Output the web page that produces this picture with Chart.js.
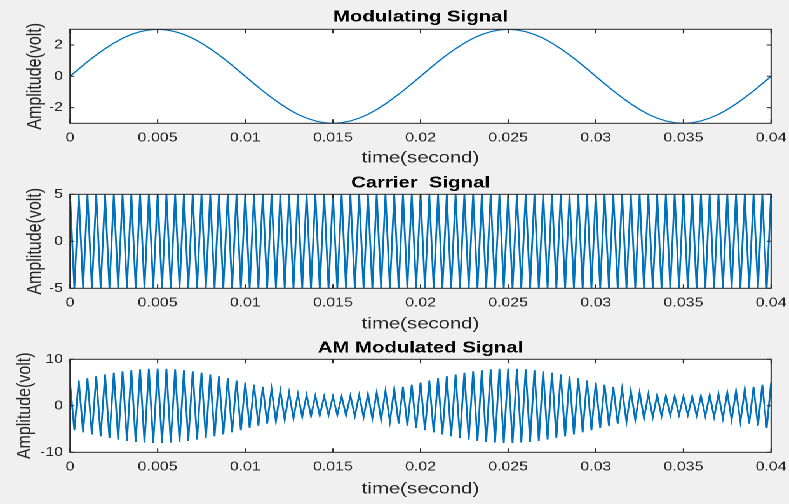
<!DOCTYPE html>
<html>
<head>
<meta charset="utf-8">
<script src="https://cdn.jsdelivr.net/npm/chart.js@4/dist/chart.umd.min.js"></script>
<style>
  html, body { margin: 0; background: #f0f0f0; overflow: hidden; }
  #figure { position: absolute; left: 0; top: 0; width: 621px; height: 504px; transform: scaleX(1.2705); transform-origin: 0 0; }
  #figure canvas { position: absolute; left: 0; }
</style>
</head>
<body>
<div id="figure">
  <canvas id="mod" width="621" height="170" style="top:0"></canvas>
  <canvas id="carrier" width="621" height="165" style="top:170px"></canvas>
  <canvas id="am" width="621" height="169" style="top:335px"></canvas>
</div>
<script>
// time axis (seconds)
const xTicks = [0, 0.005, 0.01, 0.015, 0.02, 0.025, 0.03, 0.035, 0.04]
const xTickLabels = ['0', '0.005', '0.01', '0.015', '0.02', '0.025', '0.03', '0.035', '0.04']

// modulating signal, read every 0.5 ms
const tMod = [
  0, 0.0005, 0.001, 0.0015, 0.002, 0.0025, 0.003, 0.0035, 0.004, 0.0045,
  0.005, 0.0055, 0.006, 0.0065, 0.007, 0.0075, 0.008, 0.0085, 0.009, 0.0095,
  0.01, 0.0105, 0.011, 0.0115, 0.012, 0.0125, 0.013, 0.0135, 0.014, 0.0145,
  0.015, 0.0155, 0.016, 0.0165, 0.017, 0.0175, 0.018, 0.0185, 0.019, 0.0195,
  0.02, 0.0205, 0.021, 0.0215, 0.022, 0.0225, 0.023, 0.0235, 0.024, 0.0245,
  0.025, 0.0255, 0.026, 0.0265, 0.027, 0.0275, 0.028, 0.0285, 0.029, 0.0295,
  0.03, 0.0305, 0.031, 0.0315, 0.032, 0.0325, 0.033, 0.0335, 0.034, 0.0345,
  0.035, 0.0355, 0.036, 0.0365, 0.037, 0.0375, 0.038, 0.0385, 0.039, 0.0395,
  0.04
]
const modValues = [
  0, 0.47, 0.93, 1.36, 1.76, 2.12, 2.43, 2.67, 2.85, 2.96,
  3, 2.96, 2.85, 2.67, 2.43, 2.12, 1.76, 1.36, 0.93, 0.47,
  0, -0.47, -0.93, -1.36, -1.76, -2.12, -2.43, -2.67, -2.85, -2.96,
  -3, -2.96, -2.85, -2.67, -2.43, -2.12, -1.76, -1.36, -0.93, -0.47,
  0, 0.47, 0.93, 1.36, 1.76, 2.12, 2.43, 2.67, 2.85, 2.96,
  3, 2.96, 2.85, 2.67, 2.43, 2.12, 1.76, 1.36, 0.93, 0.47,
  0, -0.47, -0.93, -1.36, -1.76, -2.12, -2.43, -2.67, -2.85, -2.96,
  -3, -2.96, -2.85, -2.67, -2.43, -2.12, -1.76, -1.36, -0.93, -0.47,
  0
]
const modTicks = [-2, 0, 2]

// carrier / AM peaks, read every 0.25 ms
const tFast = [
  0, 0.00025, 0.0005, 0.00075, 0.001, 0.00125, 0.0015, 0.00175,
  0.002, 0.00225, 0.0025, 0.00275, 0.003, 0.00325, 0.0035, 0.00375,
  0.004, 0.00425, 0.0045, 0.00475, 0.005, 0.00525, 0.0055, 0.00575,
  0.006, 0.00625, 0.0065, 0.00675, 0.007, 0.00725, 0.0075, 0.00775,
  0.008, 0.00825, 0.0085, 0.00875, 0.009, 0.00925, 0.0095, 0.00975,
  0.01, 0.01025, 0.0105, 0.01075, 0.011, 0.01125, 0.0115, 0.01175,
  0.012, 0.01225, 0.0125, 0.01275, 0.013, 0.01325, 0.0135, 0.01375,
  0.014, 0.01425, 0.0145, 0.01475, 0.015, 0.01525, 0.0155, 0.01575,
  0.016, 0.01625, 0.0165, 0.01675, 0.017, 0.01725, 0.0175, 0.01775,
  0.018, 0.01825, 0.0185, 0.01875, 0.019, 0.01925, 0.0195, 0.01975,
  0.02, 0.02025, 0.0205, 0.02075, 0.021, 0.02125, 0.0215, 0.02175,
  0.022, 0.02225, 0.0225, 0.02275, 0.023, 0.02325, 0.0235, 0.02375,
  0.024, 0.02425, 0.0245, 0.02475, 0.025, 0.02525, 0.0255, 0.02575,
  0.026, 0.02625, 0.0265, 0.02675, 0.027, 0.02725, 0.0275, 0.02775,
  0.028, 0.02825, 0.0285, 0.02875, 0.029, 0.02925, 0.0295, 0.02975,
  0.03, 0.03025, 0.0305, 0.03075, 0.031, 0.03125, 0.0315, 0.03175,
  0.032, 0.03225, 0.0325, 0.03275, 0.033, 0.03325, 0.0335, 0.03375,
  0.034, 0.03425, 0.0345, 0.03475, 0.035, 0.03525, 0.0355, 0.03575,
  0.036, 0.03625, 0.0365, 0.03675, 0.037, 0.03725, 0.0375, 0.03775,
  0.038, 0.03825, 0.0385, 0.03875, 0.039, 0.03925, 0.0395, 0.03975,
  0.04
]
const carrierValues = [
  5, -5, 5, -5, 5, -5, 5, -5, 5, -5, 5, -5, 5, -5, 5, -5, 5, -5, 5, -5,
  5, -5, 5, -5, 5, -5, 5, -5, 5, -5, 5, -5, 5, -5, 5, -5, 5, -5, 5, -5,
  5, -5, 5, -5, 5, -5, 5, -5, 5, -5, 5, -5, 5, -5, 5, -5, 5, -5, 5, -5,
  5, -5, 5, -5, 5, -5, 5, -5, 5, -5, 5, -5, 5, -5, 5, -5, 5, -5, 5, -5,
  5, -5, 5, -5, 5, -5, 5, -5, 5, -5, 5, -5, 5, -5, 5, -5, 5, -5, 5, -5,
  5, -5, 5, -5, 5, -5, 5, -5, 5, -5, 5, -5, 5, -5, 5, -5, 5, -5, 5, -5,
  5, -5, 5, -5, 5, -5, 5, -5, 5, -5, 5, -5, 5, -5, 5, -5, 5, -5, 5, -5,
  5, -5, 5, -5, 5, -5, 5, -5, 5, -5, 5, -5, 5, -5, 5, -5, 5, -5, 5, -5,
  5
]
const carrierTicks = [-5, 0, 5]

const amValues = [
  5, -5.24, 5.47, -5.7, 5.93, -6.15, 6.36, -6.57, 6.76, -6.95,
  7.12, -7.28, 7.43, -7.56, 7.67, -7.77, 7.85, -7.92, 7.96, -7.99,
  8, -7.99, 7.96, -7.92, 7.85, -7.77, 7.67, -7.56, 7.43, -7.28,
  7.12, -6.95, 6.76, -6.57, 6.36, -6.15, 5.93, -5.7, 5.47, -5.24,
  5, -4.76, 4.53, -4.3, 4.07, -3.85, 3.64, -3.43, 3.24, -3.05,
  2.88, -2.72, 2.57, -2.44, 2.33, -2.23, 2.15, -2.08, 2.04, -2.01,
  2, -2.01, 2.04, -2.08, 2.15, -2.23, 2.33, -2.44, 2.57, -2.72,
  2.88, -3.05, 3.24, -3.43, 3.64, -3.85, 4.07, -4.3, 4.53, -4.76,
  5, -5.24, 5.47, -5.7, 5.93, -6.15, 6.36, -6.57, 6.76, -6.95,
  7.12, -7.28, 7.43, -7.56, 7.67, -7.77, 7.85, -7.92, 7.96, -7.99,
  8, -7.99, 7.96, -7.92, 7.85, -7.77, 7.67, -7.56, 7.43, -7.28,
  7.12, -6.95, 6.76, -6.57, 6.36, -6.15, 5.93, -5.7, 5.47, -5.24,
  5, -4.76, 4.53, -4.3, 4.07, -3.85, 3.64, -3.43, 3.24, -3.05,
  2.88, -2.72, 2.57, -2.44, 2.33, -2.23, 2.15, -2.08, 2.04, -2.01,
  2, -2.01, 2.04, -2.08, 2.15, -2.23, 2.33, -2.44, 2.57, -2.72,
  2.88, -3.05, 3.24, -3.43, 3.64, -3.85, 4.07, -4.3, 4.53, -4.76,
  5
]
const amTicks = [-10, 0, 10]

const lineColor = '#0072bd'
const axisColor = '#262626'

Chart.defaults.font.family = "'Liberation Sans', Arial, sans-serif"
Chart.defaults.color = axisColor

// white axes box with MATLAB-style inward ticks
const axesBox = {
  id: 'axesBox',
  beforeDraw (chart) {
    const { ctx, chartArea: a } = chart
    ctx.save()
    ctx.fillStyle = '#ffffff'
    ctx.fillRect(a.left, a.top, a.width, a.height)
    ctx.restore()
  },
  afterDraw (chart) {
    const { ctx, chartArea: a, scales } = chart
    ctx.save()
    ctx.strokeStyle = axisColor
    ctx.lineWidth = 1
    ctx.strokeRect(a.left, a.top, a.width, a.height)
    ctx.beginPath()
    scales.x.ticks.forEach(t => {
      const px = scales.x.getPixelForValue(t.value)
      ctx.moveTo(px, a.bottom)
      ctx.lineTo(px, a.bottom - 4)
      ctx.moveTo(px, a.top)
      ctx.lineTo(px, a.top + 4)
    })
    scales.y.ticks.forEach(t => {
      const py = scales.y.getPixelForValue(t.value)
      ctx.moveTo(a.left, py)
      ctx.lineTo(a.left + 3.5, py)
      ctx.moveTo(a.right, py)
      ctx.lineTo(a.right - 3.5, py)
    })
    ctx.stroke()
    ctx.restore()
  }
}

function newPlot (id, title, times, values, yMin, yMax, yTicks, box) {
  const ctx = document.getElementById(id)
  return new Chart(ctx, {
    type: 'line',
    data: {
      datasets: [{
        data: times.map((t, i) => ({ x: t, y: values[i] })),
        borderColor: lineColor,
        borderWidth: box.lineWidth,
        pointRadius: 0,
        tension: 0
      }]
    },
    options: {
      responsive: false,
      animation: false,
      devicePixelRatio: 2,
      events: [],
      layout: { padding: { left: 0, right: 14.1, top: 0, bottom: 0 } },
      plugins: {
        legend: { display: false },
        tooltip: { enabled: false },
        title: {
          display: true,
          text: title,
          fullSize: false,
          color: '#000000',
          font: { size: 16, weight: 'bold' },
          padding: box.titlePad
        }
      },
      scales: {
        x: {
          type: 'linear',
          min: 0,
          max: 0.04,
          grid: { display: false, drawTicks: false },
          border: { display: false },
          afterBuildTicks: s => { s.ticks = xTicks.map(v => ({ value: v })) },
          afterFit: s => {
            s.height = box.xHeight
            s.paddingLeft = 0
            s.paddingRight = 0
          },
          ticks: {
            autoSkip: false,
            maxRotation: 0,
            padding: 7,
            font: { size: 12.5 },
            callback: (val, index) => xTickLabels[index]
          },
          title: {
            display: true,
            text: 'time(second)',
            font: { size: 16 },
            padding: { top: 0, bottom: box.xTitlePad }
          }
        },
        y: {
          min: yMin,
          max: yMax,
          grid: { display: false, drawTicks: false },
          border: { display: false },
          afterBuildTicks: s => { s.ticks = yTicks.map(v => ({ value: v })) },
          afterFit: s => { s.width = 55.1 },
          ticks: {
            padding: 5.5,
            font: { size: 12.5 },
            callback: val => String(val)
          },
          title: {
            display: true,
            text: 'Amplitude(volt)',
            font: { size: 16 },
            padding: { top: box.yTitlePad, bottom: 0 }
          }
        }
      }
    },
    plugins: [axesBox]
  })
}

newPlot('mod', 'Modulating Signal', tMod, modValues, -3, 3, modTicks,
  { titlePad: { top: 7.4, bottom: 2.7 }, xHeight: 46.7, xTitlePad: 2.1, yTitlePad: 17.9, lineWidth: 1.2 })
newPlot('carrier', 'Carrier  Signal', tFast, carrierValues, -5, 5, carrierTicks,
  { titlePad: { top: 3.7, bottom: 1.4 }, xHeight: 46.7, xTitlePad: 1.2, yTitlePad: 17.9, lineWidth: 1.4 })
newPlot('am', 'AM Modulated Signal', tFast, amValues, -10, 10, amTicks,
  { titlePad: { top: 3.7, bottom: 1.4 }, xHeight: 51.7, xTitlePad: 5.2, yTitlePad: 10.1, lineWidth: 1.4 })
</script>
</body>
</html>
